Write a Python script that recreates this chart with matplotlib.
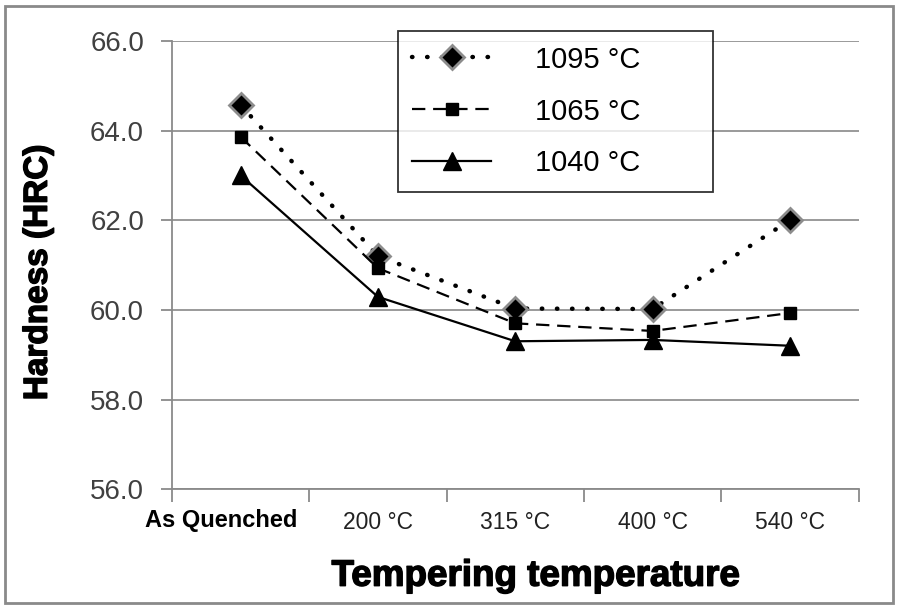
import matplotlib
matplotlib.use("Agg")
import matplotlib.pyplot as plt
import matplotlib.patches as patches
import matplotlib.transforms as mtransforms
import matplotlib.patheffects as pe

# data
categories = ['As Quenched', '200 °C', '315 °C', '400 °C', '540 °C']
hrc_1095 = [64.57, 61.2, 60.03, 60.02, 62.0]
hrc_1065 = [63.86, 60.93, 59.7, 59.53, 59.93]
hrc_1040 = [63.0, 60.29, 59.3, 59.33, 59.2]
series_names = ['1095 °C', '1065 °C', '1040 °C']
yticks = [56, 58, 60, 62, 64, 66]

plt.rcParams['font.family'] = ['Liberation Sans', 'DejaVu Sans']

fig = plt.figure(figsize=(9, 6.1), dpi=100)
ax = fig.add_axes([0.191, 0.198, 0.763, 0.735])

fig.patches.append(patches.Rectangle((0.006, 0.011), 0.986, 0.979, transform=fig.transFigure,
                                     fill=False, edgecolor='#8a8a8a', linewidth=2))

x = list(range(len(categories)))
ax.plot(x, hrc_1095, color='black', linewidth=3.2, linestyle=(0, (0.1, 3.3)),
        dash_capstyle='round', marker='D', markersize=12.5, markerfacecolor='black',
        markeredgecolor='#8c8c8c', markeredgewidth=2, label=series_names[0], zorder=3)
ax.plot(x, hrc_1065, color='black', linewidth=1.6, linestyle=(0, (6, 3.5)),
        marker='s', markersize=8, markerfacecolor='black', markeredgecolor='black',
        label=series_names[1], zorder=4)
ax.plot(x, hrc_1040, color='black', linewidth=1.6, linestyle='-',
        marker='^', markersize=13, markerfacecolor='black', markeredgecolor='black',
        label=series_names[2], zorder=5)

ax.set_ylim(56, 66)
ax.set_yticks(yticks)
ax.set_yticklabels(['%.1f' % v for v in yticks], fontsize=20, color='#404040')
ax.set_xlim(-0.5, 4.5)
ax.set_xticks(x)
ax.set_xticklabels(categories, fontsize=16.5, color='#222222')
ax.set_xticks([i - 0.5 for i in range(len(categories) + 1)], minor=True)
ax.tick_params(axis='x', which='major', length=0, pad=16)
ax.tick_params(axis='x', which='minor', length=9, color='#8a8a8a', width=1.3)
ax.tick_params(axis='y', length=8, color='#8a8a8a', width=1.3, pad=12)

# "As Quenched" is bold and sits a bit left of its slot
lbl = ax.get_xticklabels()[0]
lbl.set_fontweight('bold')
lbl.set_fontsize(17)
lbl.set_color('black')
lbl.set_transform(lbl.get_transform() + mtransforms.ScaledTranslation(-0.19, 0.02, fig.dpi_scale_trans))

ax.grid(axis='y', color='#9a9a9a', linewidth=1.4)
ax.set_axisbelow(True)
for s in ['top', 'right']:
    ax.spines[s].set_visible(False)
for s in ['left', 'bottom']:
    ax.spines[s].set_color('#8a8a8a')
    ax.spines[s].set_linewidth(1.3)

heavy = [pe.withStroke(linewidth=1.0, foreground='black')]
yl = ax.set_ylabel('Hardness (HRC)', fontsize=24, fontweight='bold')
xl = ax.set_xlabel('Tempering temperature', fontsize=26.5, fontweight='bold')
yl.set_path_effects(heavy)
xl.set_path_effects(heavy)
ax.yaxis.set_label_coords(-0.172, 0.484)
ax.xaxis.set_label_coords(0.529, -0.155)

leg = ax.legend(loc='upper left', bbox_to_anchor=(0.329, 0.661, 0.4585, 0.361), mode='expand',
                fontsize=21, frameon=True, fancybox=False, edgecolor='black',
                handlelength=2.7, handletextpad=1.5, labelspacing=0.82,
                borderpad=0.5, borderaxespad=0)
leg.get_frame().set_linewidth(1.3)

fig.savefig('out.png', dpi=100)
